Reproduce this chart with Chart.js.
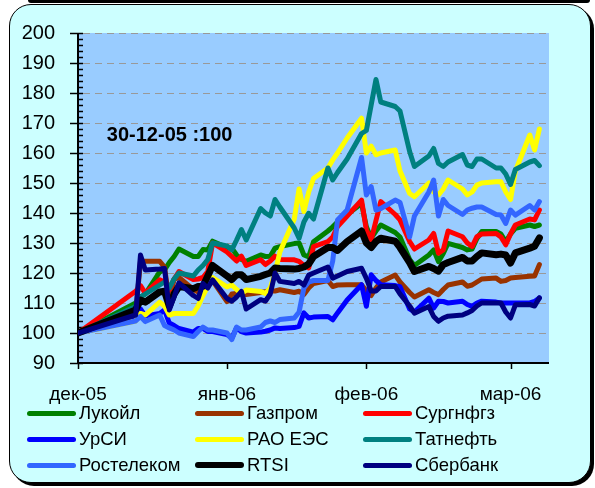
<!DOCTYPE html>
<html>
<head>
<meta charset="utf-8">
<script src="https://cdn.jsdelivr.net/npm/chart.js@4.4.0/dist/chart.umd.min.js"></script>
<style>
  html, body { margin: 0; padding: 0; background: #fff; }
  body { width: 595px; height: 488px; position: relative; overflow: hidden;
         font-family: 'Liberation Sans', Arial, sans-serif; }
  .topband { position: absolute; left: 28px; top: 0; width: 562px; height: 3px;
             background: #000; border-radius: 0 0 3px 3px; }
  .frame { position: absolute; left: 9px; top: 4px; width: 580px; height: 477px;
           background: #ccffff; border: 1.5px solid #000; border-radius: 22px;
           box-shadow: 3px 3px 0 #000; }
  .plot { position: absolute; left: 0; top: 0; width: 595px; height: 420px; }
  .legend-item { position: absolute; height: 26px; display: flex; align-items: center;
                 font-size: 18.5px; color: #000; white-space: nowrap; }
  .legend-item .swatch { width: 49px; height: 5px; border-radius: 3px; margin-right: 3px; }
</style>
</head>
<body>
<div class="topband"></div>
<div class="frame"></div>
<div class="plot"><canvas id="chart"></canvas></div>
<div id="legend"></div>
<script>
/* Индексы акций, 30-12-05 = 100 */

// trading days, counted from 30-12-2005
const DAYS = [0, 12, 13, 14, 17, 18, 19, 20, 21, 24, 25, 26, 27, 28, 31, 32, 33, 34, 35, 38,
    39, 40, 41, 42, 45, 46, 47, 48, 49, 52, 53, 54, 56, 59, 60, 61, 62, 63, 66, 67,
    69, 70, 73, 74, 75, 76, 77, 80, 81, 82, 83, 84, 87, 88, 89, 90, 91, 94, 95, 96];

const TICK_DAYS = [0, 31, 60, 90];
const TICK_LABELS = ['дек-05', 'янв-06', 'фев-06', 'мар-06'];

const LUKOIL = [100, 110, 112, 113, 120.4, 121, 123.5, 125.5, 128, 125.5,
    125.5, 127.8, 127.7, 130.6, 128.5, 128.3, 126, 124.5, 123.9, 126,
    125.5, 125.6, 128.3, 128.8, 129.8, 130, 126, 125.4, 130.4, 134,
    135.4, 137, 139.5, 143.2, 135.4, 131.6, 134, 136, 133.5, 132,
    124.5, 122.5, 126, 127.7, 123.8, 126.5, 129.9, 128.5, 127.7, 128,
    131.5, 133.8, 133.8, 133, 130.4, 133, 134.9, 136, 135.5, 136];

const GAZPROM = [100, 106.5, 123.9, 123.9, 123.9, 122, 110.5, 118, 118.5, 114.5,
    113.7, 116, 117, 117.5, 110.5, 113, 113.2, 113, 112.8, 113.5,
    113.8, 114, 114, 114.4, 113.5, 113.9, 112.8, 115, 116.5, 117.5,
    115.5, 116, 116.1, 116.1, 114, 112.5, 115, 117, 119.3, 117,
    113.5, 112, 114.4, 113.5, 112.8, 114.5, 116, 117, 115.6, 116,
    117, 118, 118.3, 117.2, 117.5, 118.3, 118.5, 118.9, 119, 122.8];

const SURGUT = [100, 113.9, 115.8, 113.3, 117.7, 117, 114.5, 118, 120.5, 117.8,
    118, 118.5, 120.5, 130, 127, 125.5, 124, 125.6, 122.5, 124.4,
    122.8, 124, 125.6, 124.5, 124.4, 123.9, 122.5, 121.7, 128.8, 130.5,
    132, 135.5, 139, 144.3, 134.3, 131, 137.5, 143.8, 139.5, 137.7,
    130.5, 128, 131, 133.2, 126.6, 127.7, 134, 132.1, 130, 128.8,
    132.1, 133, 133.2, 132, 129.4, 133, 136, 138, 137.7, 141];

const URSI = [100, 104.5, 108, 105.7, 106.5, 107.7, 103.3, 102.5, 101.5, 100.3,
    101.5, 101.5, 100.5, 100.5, 99.5, 98.3, 101.7, 100.5, 100, 100.3,
    100.6, 101, 101.7, 101.5, 101.8, 102.2, 106.7, 105, 105.3, 105.5,
    104.4, 106.7, 111, 116.1, 108.9, 119.4, 117.5, 116.1, 115.8, 115.4,
    108, 107, 111.6, 108.3, 110.6, 110.5, 110, 110.6, 109.5, 108.9,
    110, 110.6, 110.3, 110, 110, 110, 110, 110, 110.5, 111.7];

const RAO_UES = [100, 104, 106.5, 106, 110.3, 109, 106, 106.5, 106.5, 106.5,
    109, 112.5, 115.5, 118.5, 115.4, 116, 114.5, 113.2, 114.3, 113.8,
    113.2, 115, 120, 127, 138, 148, 140.5, 147, 151.5, 155,
    157.7, 160, 165, 171.6, 160, 162.3, 159.4, 160, 161, 154,
    146.5, 145.4, 150, 147, 146, 148, 151, 148, 146, 147,
    149.3, 150, 150.4, 150.4, 147, 144.5, 154, 166, 161, 168];

const TATNEFT = [100, 108.8, 112, 113, 116, 117, 115, 118, 120, 119,
    121, 122.5, 124.5, 130, 129, 127.7, 131, 134.5, 131, 141.5,
    140, 139, 144.5, 142, 135, 131.6, 137, 139.9, 138, 155,
    151, 153.5, 158, 166.5, 167.5, 176, 184.5, 177, 175.5, 174,
    160.5, 155.5, 159, 161.5, 156.5, 155.5, 157, 159.5, 156, 155.5,
    158, 158, 155, 155, 153, 149.5, 154.5, 157, 157.5, 155.8];

const ROSTELECOM = [100, 104, 105.5, 103.8, 106, 102.5, 101.7, 101, 100, 98.8,
    100.5, 102, 101, 101, 100, 97.8, 102, 101, 101, 102,
    103.5, 104, 103.5, 104.5, 105, 107, 115, 117, 117.5, 117.5,
    124, 137.7, 141, 158.5, 146, 148.8, 141, 141.5, 144.3, 143.5,
    132, 139, 147, 151, 139, 144.5, 142.5, 139.5, 141, 141.6,
    142, 142, 139.5, 139.3, 136.5, 141, 139.3, 142.5, 141, 143.8];

const RTSI = [100, 107.7, 111, 110.3, 113.7, 113.9, 108.9, 113, 115.5, 114.8,
    115.5, 115.6, 119, 122.5, 119, 117.8, 119.4, 119.4, 117.8, 118.9,
    119.5, 120, 121.7, 121.5, 121.3, 121.5, 122, 123, 125.5, 128.5,
    128.5, 127.5, 130.5, 134, 130, 128.5, 130.5, 131.6, 130.6, 128.5,
    123.5, 120.5, 122.2, 121.5, 120.6, 122.8, 123.5, 125.2, 124, 124,
    125.5, 126.7, 126.1, 126.3, 126, 123.3, 126.7, 128.3, 128.9, 131.7];

const SBERBANK = [100, 106, 126, 121, 121.3, 121.5, 107.7, 112, 116.7, 112.5,
    111.5, 116.5, 115, 117.7, 111.5, 110.6, 112, 113.9, 108, 111.1,
    110.6, 113, 120, 117.2, 116.5, 117.2, 116, 119.3, 120, 122,
    118.3, 119, 120.5, 121.6, 118.2, 114, 114, 115.5, 115.5, 113,
    109, 106.6, 108.8, 105.5, 103.9, 105, 105.6, 106, 106.7, 107.5,
    109, 110, 110, 110, 107, 105, 109.4, 109.5, 109, 111.7];

const SERIES = [
    { label: 'Лукойл', data: LUKOIL, color: '#008000', width: 5 },
    { label: 'Газпром', data: GAZPROM, color: '#993300', width: 5 },
    { label: 'Сургнфгз', data: SURGUT, color: '#ff0000', width: 5 },
    { label: 'УрСИ', data: URSI, color: '#0000ff', width: 5 },
    { label: 'РАО ЕЭС', data: RAO_UES, color: '#ffff00', width: 5 },
    { label: 'Татнефть', data: TATNEFT, color: '#008080', width: 5 },
    { label: 'Ростелеком', data: ROSTELECOM, color: '#3366ff', width: 5 },
    { label: 'RTSI', data: RTSI, color: '#000000', width: 7 },
    { label: 'Сбербанк', data: SBERBANK, color: '#000080', width: 5 },
];

const BASE_NOTE = '30-12-05 :100';
const PLOT_BG = '#99ccff';
const Y_MIN = 90, Y_MAX = 200;

Chart.defaults.font.family = "'Liberation Sans', Arial, sans-serif";

// Excel-like plot area: blue fill, dashed grid, axis lines with major/minor ticks
const excelLook = {
    id: 'excelLook',
    beforeDatasetsDraw(chart) {
        const { ctx, chartArea: a, scales: { x, y } } = chart;
        ctx.save();
        ctx.fillStyle = PLOT_BG;
        ctx.fillRect(a.left, a.top, a.right - a.left, a.bottom - a.top);

        // dashed grid
        ctx.strokeStyle = '#999999';
        ctx.lineWidth = 1;
        ctx.setLineDash([7, 5]);
        for (const t of y.ticks) {
            if (t.value === Y_MIN) continue;
            const py = Math.round(y.getPixelForValue(t.value)) + 0.5;
            ctx.beginPath();
            ctx.moveTo(a.left + 5, py);
            ctx.lineTo(a.right, py);
            ctx.stroke();
        }
        ctx.setLineDash([]);

        // axis lines
        ctx.strokeStyle = '#000';
        ctx.lineWidth = 2;
        ctx.beginPath();
        ctx.moveTo(a.left, a.top);
        ctx.lineTo(a.left, a.bottom);
        ctx.lineTo(a.right, a.bottom);
        ctx.stroke();

        // y ticks: major crosses the axis, minor every 2
        ctx.lineWidth = 1.5;
        for (let v = Y_MIN; v <= Y_MAX; v += 2) {
            const py = Math.round(y.getPixelForValue(v)) + 0.5;
            const major = v % 10 === 0;
            ctx.beginPath();
            ctx.moveTo(a.left - (major ? 8 : 0), py);
            ctx.lineTo(a.left + 5, py);
            ctx.stroke();
        }
        // x ticks
        for (const d of TICK_DAYS) {
            const px = Math.round(x.getPixelForValue(d)) + 0.5;
            ctx.beginPath();
            ctx.moveTo(px, a.bottom);
            ctx.lineTo(px, a.bottom + 6);
            ctx.stroke();
        }
        ctx.restore();
    },
    afterDatasetsDraw(chart) {
        const { ctx, scales: { x, y } } = chart;
        ctx.save();
        ctx.fillStyle = '#000';
        ctx.font = "bold 20px 'Liberation Sans', Arial, sans-serif";
        ctx.textBaseline = 'middle';
        ctx.textAlign = 'left';
        ctx.fillText(BASE_NOTE, x.getPixelForValue(6), y.getPixelForValue(166));
        ctx.restore();
    },
};

new Chart(document.getElementById('chart'), {
    type: 'line',
    data: {
        datasets: SERIES.map((s, i) => ({
            label: s.label,
            data: DAYS.map((d, j) => ({ x: d, y: s.data[j] })),
            borderColor: s.color,
            backgroundColor: s.color,
            borderWidth: s.width,
            order: SERIES.length - i,
            fill: false,
        })),
    },
    options: {
        responsive: true,
        maintainAspectRatio: false,
        animation: false,
        layout: { padding: { top: 33, right: 46, bottom: 0, left: 0 } },
        plugins: { legend: { display: false }, tooltip: { enabled: false } },
        elements: {
            point: { radius: 0 },
            line: { tension: 0, borderJoinStyle: 'round', borderCapStyle: 'round' },
        },
        scales: {
            x: {
                type: 'linear', min: 0, max: 98,
                grid: { display: false }, border: { display: false },
                afterBuildTicks: s => { s.ticks = TICK_DAYS.map(v => ({ value: v })); },
                afterFit: s => { s.height = 57; },
                ticks: {
                    padding: 12, color: '#000', font: { size: 19 }, autoSkip: false, maxRotation: 0,
                    callback: v => TICK_LABELS[TICK_DAYS.indexOf(v)] ?? '',
                },
            },
            y: {
                min: Y_MIN, max: Y_MAX,
                grid: { display: false }, border: { display: false },
                afterFit: s => { s.width = 78; },
                ticks: { stepSize: 10, padding: 15, color: '#000', font: { size: 20 } },
            },
        },
    },
    plugins: [excelLook],
});

// legend: three columns, three rows
const LEGEND_X = [27, 195, 363];
const LEGEND_Y = [413, 439, 465];
const legend = document.getElementById('legend');
SERIES.forEach((s, i) => {
    const item = document.createElement('div');
    item.className = 'legend-item';
    item.style.left = LEGEND_X[i % 3] + 'px';
    item.style.top = (LEGEND_Y[Math.floor(i / 3)] - 13) + 'px';
    const sw = document.createElement('span');
    sw.className = 'swatch';
    sw.style.background = s.color;
    if (s.label === 'RTSI') sw.style.height = '6px';
    item.appendChild(sw);
    item.appendChild(document.createTextNode(s.label));
    legend.appendChild(item);
});
</script>
</body>
</html>
